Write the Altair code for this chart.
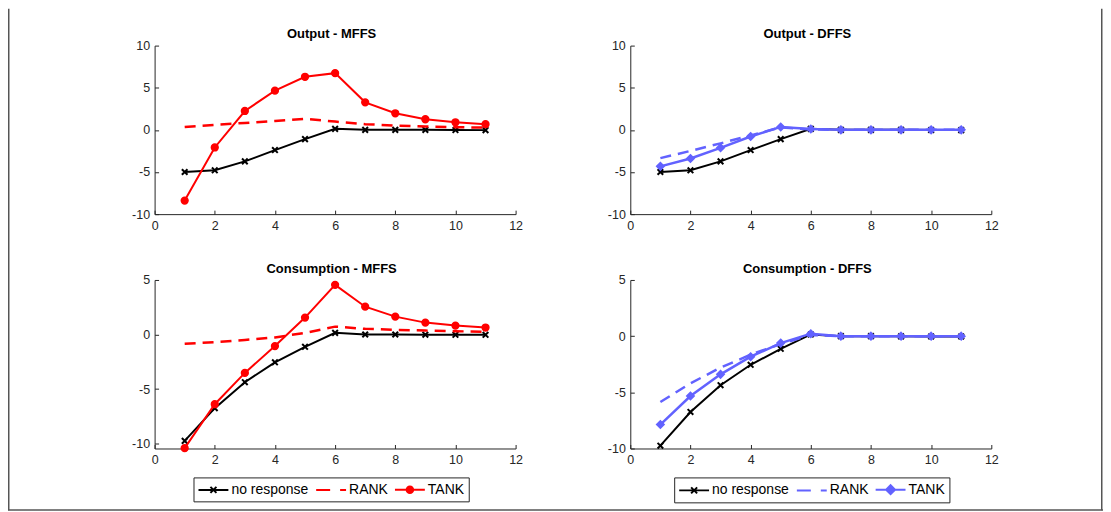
import altair as alt
import pandas as pd

# ---------------- data ----------------
t = [1, 2, 3, 4, 5, 6, 7, 8, 9, 10, 11]
names = ["no response", "RANK", "TANK"]

out_none = [-5.0, -4.8, -3.74, -2.4, -1.1, 0.12, 0.0, 0.0, 0.0, -0.02, -0.03]
out_mffs_rank = [0.35, 0.6, 0.82, 1.06, 1.32, 0.98, 0.68, 0.5, 0.4, 0.32, 0.27]
out_mffs_tank = [-8.39, -2.09, 2.24, 4.65, 6.3, 6.73, 3.27, 1.97, 1.26, 0.9, 0.67]
out_dffs_rank = [-3.35, -2.5, -1.6, -0.65, 0.3, 0.05, 0.0, 0.0, 0.0, 0.0, 0.0]
out_dffs_tank = [-4.33, -3.39, -2.13, -0.79, 0.35, 0.1, 0.0, 0.0, 0.0, 0.0, 0.0]

cons_none = [-9.75, -6.75, -4.37, -2.55, -1.13, 0.15, 0.0, 0.0, -0.02, -0.03, -0.03]
cons_mffs_rank = [-0.85, -0.7, -0.5, -0.27, 0.15, 0.72, 0.52, 0.43, 0.36, 0.3, 0.25]
cons_mffs_tank = [-10.42, -6.39, -3.52, -1.06, 1.55, 4.55, 2.55, 1.64, 1.09, 0.82, 0.64]
cons_dffs_rank = [-5.86, -4.2, -2.8, -1.65, -0.7, 0.1, 0.0, 0.0, 0.0, 0.0, 0.0]
cons_dffs_tank = [-7.87, -5.33, -3.4, -1.83, -0.62, 0.22, 0.0, 0.0, 0.0, 0.0, 0.0]

titles = ["Output - MFFS", "Output - DFFS", "Consumption - MFFS", "Consumption - DFFS"]
x_ticks = [0, 2, 4, 6, 8, 10, 12]
y_ticks_out = [-10, -5, 0, 5, 10]
y_ticks_cons = [-10, -5, 0, 5]


def long_df(a, b, c):
    rows = []
    for name, vals in zip(names, [a, b, c]):
        for ti, v in zip(t, vals):
            rows.append({"t": ti, "v": v, "series": name})
    return pd.DataFrame(rows)


# ---------------- styling ----------------
FONT = "Liberation Sans"
AX = "#262626"
FRAME = "#555555"
RED = "#FF0000"
BLUE = "#6262FF"
W, H = 362, 169

X_PATH = "M-1,-1L1,1M-1,1L1,-1"
DIAMOND_PATH = "M0,-1L1,0L0,1L-1,0Z"

# legend symbols (unit = 7 px, symbol box 14 px, line drawn 30 px wide)
LEG_NONE = "M-2.14,0H2.14M-0.43,-0.43L0.43,0.43M-0.43,0.43L0.43,-0.43"
LEG_DASH = "M-2.14,0H-0.14M1.29,0H2.14"
LEG_CIRC = "M-2.14,0H2.14M0.47,0A0.47,0.47,0,1,1,-0.47,0A0.47,0.47,0,1,1,0.47,0Z"
LEG_DIAM = "M-2.14,0H2.14M0,-0.64L0.64,0L0,0.64L-0.64,0Z"


def frame_layer(df, xs, ys, direction, length, lx, ly):
    """Invisible layer whose gradient legend draws one edge of the figure frame."""
    leg = alt.Legend(
        orient="none", legendX=lx, legendY=ly, direction=direction,
        gradientLength=length, gradientThickness=1.5, gradientStrokeWidth=0,
        title=None, labelExpr="''", padding=0, labelOffset=0, tickCount=2)
    return alt.Chart(df).mark_point(opacity=0).encode(
        x=alt.X("t:Q", scale=xs, axis=None),
        y=alt.Y("v:Q", scale=ys, axis=None),
        color=alt.Color("v:Q", scale=alt.Scale(range=[FRAME, FRAME]), legend=leg),
    )


def panel(df, title, title_y, ydom, yticks, color, tank_shape, tank_size, tank_width,
          leg_path=None, leg_xy=None, frame=None):
    xs = alt.Scale(domain=[0, 12], nice=False, zero=False)
    ys = alt.Scale(domain=ydom, nice=False, zero=False)
    lab = dict(labelFontSize=12.5, labelFont=FONT, labelColor=AX,
               labelExpr="'' + datum.value", grid=False, title=None)
    x_main = alt.X("t:Q", scale=xs, axis=alt.Axis(
        values=x_ticks, tickSize=0, labelPadding=5, domainColor=AX,
        domainWidth=1, labelFlush=False, **lab))
    y_main = alt.Y("v:Q", scale=ys, axis=alt.Axis(
        values=yticks, tickSize=0, labelPadding=5, domainColor=AX,
        domainWidth=1, **lab))
    x_tick = alt.X("t:Q", scale=xs, axis=alt.Axis(
        orient="bottom", offset=-4, values=x_ticks, tickSize=4, tickColor=AX,
        labels=False, domain=False, grid=False, title=None))
    y_tick = alt.Y("v:Q", scale=ys, axis=alt.Axis(
        orient="left", offset=-4, values=yticks, tickSize=4, tickColor=AX,
        labels=False, domain=False, grid=False, title=None))
    x_title = alt.X("t:Q", scale=xs, axis=alt.Axis(
        orient="top", title=title, labels=False, ticks=False, domain=False,
        grid=False, titleFontSize=13, titleFontWeight="bold", titleFont=FONT,
        titleColor="black", titleX=W / 2 - 4, titleY=title_y,
        titleBaseline="alphabetic", titleAlign="center"))
    xn = alt.X("t:Q", scale=xs, axis=None)
    yn = alt.Y("v:Q", scale=ys, axis=None)

    def sub(name):
        return alt.Chart(df).transform_filter(alt.datum.series == name)

    axis_layer = alt.Chart(df).mark_point(opacity=0).encode(x=x_main, y=y_main)
    tick_layer = alt.Chart(df).mark_point(opacity=0).encode(x=x_tick, y=y_tick)
    title_layer = alt.Chart(df).mark_point(opacity=0).encode(x=x_title, y=yn)
    no_line = sub("no response").mark_line(color="black", strokeWidth=2).encode(x=xn, y=yn)
    no_pts = sub("no response").mark_point(
        shape=X_PATH, size=32, filled=False, stroke="black", strokeWidth=2,
        opacity=1).encode(x=xn, y=yn)
    rank = sub("RANK").mark_line(color=color, strokeWidth=2.5,
                                 strokeDash=[11, 7]).encode(x=xn, y=yn)
    tank_line = sub("TANK").mark_line(color=color, strokeWidth=tank_width).encode(x=xn, y=yn)
    tank_pts = sub("TANK").mark_point(
        shape=tank_shape, size=tank_size, filled=True, fill=color, stroke=color,
        strokeWidth=1.5, opacity=1).encode(x=xn, y=yn)
    layers = [axis_layer, tick_layer, title_layer, no_line, no_pts, rank,
              tank_line, tank_pts]

    if leg_path is not None:
        leg = alt.Legend(
            orient="none", legendX=leg_xy[0], legendY=leg_xy[1],
            direction="horizontal", columns=3, title=None,
            symbolSize=196, symbolStrokeWidth=2, symbolOpacity=1,
            symbolOffset=8, labelOffset=10,
            labelFontSize=14, labelFont=FONT, labelColor="black",
            columnPadding=3, padding=4, labelLimit=300,
            strokeColor=AX, fillColor="white")
        legend_layer = alt.Chart(df).mark_point(
            opacity=0, filled=True, size=196).encode(
            x=xn, y=yn,
            fill=alt.Fill("series:N", scale=alt.Scale(domain=names, range=["black", color, color]), legend=leg),
            stroke=alt.Stroke("series:N", scale=alt.Scale(domain=names, range=["black", color, color]), legend=leg),
            shape=alt.Shape("series:N", scale=alt.Scale(domain=names, range=[LEG_NONE, LEG_DASH, leg_path]), legend=leg),
        )
        layers.append(legend_layer)

    if frame is not None:
        layers.append(frame_layer(df, xs, ys, *frame))

    return alt.layer(*layers).resolve_axis(x="independent", y="independent").properties(
        width=W, height=H)


# panel origins on the page: (155,45) (632,45) (155,280) (632,280)
p1 = panel(long_df(out_none, out_mffs_rank, out_mffs_tank), titles[0], -8,
           [-10, 10], y_ticks_out, RED, "circle", 46, 2,
           frame=("vertical", 503, -147, -37))
p2 = panel(long_df(out_none, out_dffs_rank, out_dffs_tank), titles[1], -8,
           [-10, 10], y_ticks_out, BLUE, DIAMOND_PATH, 56, 2.5,
           frame=("vertical", 503, 472, -37))
p3 = panel(long_df(cons_none, cons_mffs_rank, cons_mffs_tank), titles[2], -7,
           [-10.45, 5], y_ticks_cons, RED, "circle", 46, 2,
           leg_path=LEG_CIRC, leg_xy=(39, 198),
           frame=("horizontal", 1098, -147, 230))
p4 = panel(long_df(cons_none, cons_dffs_rank, cons_dffs_tank), titles[3], -7,
           [-10, 5], y_ticks_cons, BLUE, DIAMOND_PATH, 56, 2.5,
           leg_path=LEG_DIAM, leg_xy=(44, 198))

chart = alt.concat(p1, p2, p3, p4, columns=2,
                   spacing={"row": 66, "column": 115}, bounds="flush").resolve_scale(
    fill="independent", stroke="independent", shape="independent", color="independent"
).properties(
    padding={"left": 0, "top": 0, "right": 0, "bottom": 0},
    background="white",
).configure_view(stroke=None)

chart.save("out.html", embed_options={"renderer": "svg", "actions": False})
